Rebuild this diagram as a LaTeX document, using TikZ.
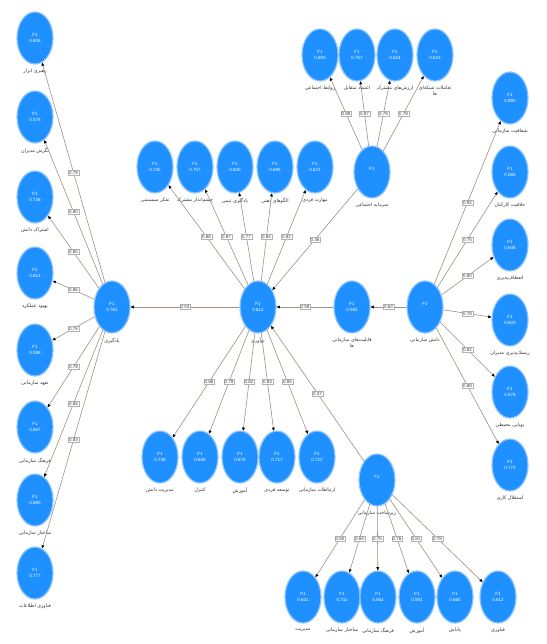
\documentclass[tikz,border=0pt]{standalone}
\usepackage{fontspec}
\setmainfont{Liberation Sans}
\newfontfamily\fa[Script=Arabic]{DejaVu Sans}
\TeXXeTstate=1
\usetikzlibrary{shapes.geometric,arrows.meta}
\definecolor{nodeblue}{RGB}{30,144,255}
\definecolor{glow}{RGB}{140,195,255}
\definecolor{linec}{RGB}{160,145,130}
\newcommand\fr[1]{{\fa\beginR #1\endR}}
\begin{document}
\begin{tikzpicture}[x=1pt,y=-1pt,
  lv/.style={ellipse, fill=nodeblue, draw=glow, line width=1.2pt,
    minimum width=36pt, minimum height=52pt, inner sep=0pt,
    text=white, font=\fontsize{4.5}{6}\selectfont, align=center},
  lbl/.style={anchor=north, font=\fontsize{4.8}{6}\selectfont,
    text=black!80, align=center, inner sep=0.5pt},
  pc/.style={font=\fontsize{4.5}{5.5}\selectfont, fill=white, draw=black!30,
    line width=0.3pt, inner sep=0.8pt, text=black!75},
  conn/.style={draw=linec, line width=0.6pt,
    -{Triangle[length=3.2pt,width=2.8pt,color=black]}},
]
\useasboundingbox[fill=white] (0,0) rectangle (546,644);

% ---------------- hubs ----------------
\node[lv] (L) at (112,307) {F1\\0.761};
\node[lbl] (Lt) at ([yshift=-4pt]L.south) {\fr{یادگیری}};
\node[lv] (C) at (258,307) {F1\\0.612};
\node[lbl] (Ct) at ([yshift=-4pt]C.south) {\fr{نوآوری}};
\node[lv] (M) at (352,307) {F1\\0.580};
\node[lbl] (Mt) at ([yshift=-4pt]M.south) {\fr{قابلیت‌های سازمانی}\\\fr{ها}};
\node[lv] (R) at (425,307) {F1\\};
\node[lbl] (Rt) at ([yshift=-4pt]R.south) {\fr{دانش سازمانی}};
\node[lv] (T) at (372,172) {F1\\};
\node[lbl] (Tt) at ([yshift=-4pt]T.south) {\fr{سرمایه اجتماعی}};
\node[lv] (B) at (377,480) {F1\\};
\node[lbl] (Bt) at ([yshift=-4pt]B.south) {\fr{زیرساخت سازمانی}};

% ---------------- left column ----------------
\foreach \i/\y/\v/\t/\p in {
  1/38/0.806/{رهبری ابزار}/0.79,
  2/117/0.578/{نگرش مدیران}/0.80,
  3/197/0.738/{اشتراک دانش}/0.80,
  4/273/0.612/{بهبود عملکرد}/0.86,
  5/350/0.598/{تعهد سازمانی}/0.76,
  6/427/0.667/{فرهنگ سازمانی}/0.78,
  7/500/0.680/{ساختار سازمانی}/0.84,
  8/573/0.777/{فناوری اطلاعات}/0.83}{
  \node[lv] (l\i) at (35,\y) {F1\\\v};
  \node[lbl] (lt\i) at ([yshift=-4pt]l\i.south) {\fr{\t}};
  \draw[conn] (L) -- node[pc] {\p} (l\i);
}

% ---------------- right column ----------------
\foreach \i/\y/\v/\t/\p in {
  1/98/0.880/{شفافیت سازمانی}/0.92,
  2/172/0.565/{خلاقیت کارکنان}/0.75,
  3/245/0.638/{انعطاف‌پذیری}/0.80,
  4/320/0.603/{ریسک‌پذیری مدیران}/0.78,
  5/392/0.676/{پویایی محیطی}/0.82,
  6/465/0.773/{استقلال کاری}/0.88}{
  \node[lv] (r\i) at (510,\y) {F1\\\v};
  \node[lbl] (rt\i) at ([yshift=-4pt]r\i.south) {\fr{\t}};
  \draw[conn] (R) -- node[pc] {\p} (r\i);
}

% ---------------- top row (from centre) ----------------
\foreach \i/\x/\v/\t/\p in {
  1/155/0.735/{تفکر سیستمی}/0.86,
  2/195/0.757/{چشم‌انداز مشترک}/0.87,
  3/235/0.600/{یادگیری تیمی}/0.77,
  4/275/0.695/{الگوهای ذهنی}/0.84,
  5/315/0.672/{مهارت فردی}/0.82}{
  \node[lv] (t\i) at (\x,167) {F1\\\v};
  \node[lbl] (tt\i) at ([yshift=-4pt]t\i.south) {\fr{\t}};
  \draw[conn] (C) -- node[pc] {\p} (t\i);
}

% ---------------- bottom row (from centre) ----------------
\foreach \i/\x/\v/\t/\p in {
  1/160/0.748/{مدیریت دانش}/0.86,
  2/200/0.630/{کنترل}/0.79,
  3/240/0.678/{آموزش}/0.82,
  4/277/0.717/{توسعه فردی}/0.83,
  5/317/0.722/{ارتباطات سازمانی}/0.85}{
  \node[lv] (b\i) at (\x,457) {F1\\\v};
  \node[lbl] (bt\i) at ([yshift=-4pt]b\i.south) {\fr{\t}};
  \draw[conn] (C) -- node[pc] {\p} (b\i);
}

% ---------------- top group ----------------
\foreach \i/\x/\v/\t/\p in {
  1/320/0.805/{روابط اجتماعی}/0.88,
  2/357/0.757/{اعتماد متقابل}/0.87,
  3/395/0.624/{ارزش‌های مشترک}/0.79,
  4/435/0.623/{تعاملات شبکه‌ای}/0.79}{
  \node[lv] (g\i) at (\x,55) {F1\\\v};
  \draw[conn] (T) -- node[pc] {\p} (g\i);
}
\node[lbl] (gt1) at ([yshift=-4pt]g1.south) {\fr{روابط اجتماعی}};
\node[lbl] (gt2) at ([yshift=-4pt]g2.south) {\fr{اعتماد متقابل}};
\node[lbl] (gt3) at ([yshift=-4pt]g3.south) {\fr{ارزش‌های مشترک}};
\node[lbl] (gt4) at ([yshift=-4pt]g4.south) {\fr{تعاملات شبکه‌ای}\\\fr{ها}};

% ---------------- bottom group ----------------
\foreach \i/\x/\v/\t/\p in {
  1/303/0.641/{مدیریت}/0.80,
  2/342/0.711/{ساختار سازمانی}/0.84,
  3/378/0.562/{فرهنگ سازمانی}/0.75,
  4/417/0.581/{آموزش}/0.76,
  5/455/0.660/{پاداش}/0.81,
  6/498/0.612/{فناوری}/0.78}{
  \node[lv] (d\i) at (\x,597) {F1\\\v};
  \node[lbl] (dt\i) at ([yshift=-4pt]d\i.south) {\fr{\t}};
  \draw[conn] (B) -- node[pc] {\p} (d\i);
}

% ---------------- structural paths ----------------
\draw[conn] (C) -- node[pc] {0.53} (L);
\draw[conn] (M) -- node[pc] {0.58} (C);
\draw[conn] (R) -- node[pc] {0.63} (M);
\draw[conn] (T) -- node[pc] {0.36} (C);
\draw[conn] (B) -- node[pc] {0.37} (C);
\end{tikzpicture}
\end{document}
